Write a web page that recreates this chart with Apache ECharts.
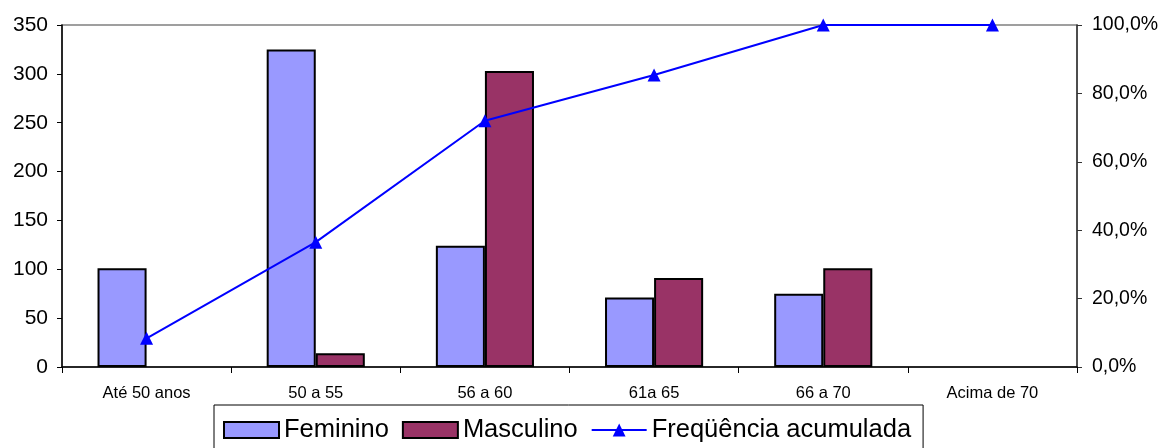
<!DOCTYPE html>
<html>
<head>
<meta charset="utf-8">
<script src="https://cdn.jsdelivr.net/npm/echarts@6/dist/echarts.min.js"></script>
<style>
  html, body { margin: 0; padding: 0; background: #fff; }
  #chart { width: 1167px; height: 448px; }
</style>
</head>
<body>
<div id="chart"></div>
<script>
// faixas etárias
const categorias = ['Até 50 anos', '50 a 55', '56 a 60', '61a 65', '66 a 70', 'Acima de 70'];
const feminino = [101, 325, 124, 71, 75, 0];
const masculino = [0, 14, 303, 91, 101, 0];
// frequência acumulada (%)
const acumulada = [8.4, 36.5, 72.0, 85.4, 100, 100];

// barras com valor zero não aparecem no original
const semZero = arr => arr.map(v => (v === 0 ? null : v));

const fonte = '"Liberation Sans", Arial, sans-serif';
const myChart = echarts.init(document.getElementById('chart'));
const option = {
  animation: false,
  textStyle: { fontFamily: fonte, color: '#000' },
  grid: {
    left: 62, right: 90, top: 25, bottom: 81,
    show: true, borderColor: '#808080', borderWidth: 1.5
  },
  legend: {
    left: 214, top: 405,
    padding: [12, 12, 12, 9],
    borderColor: '#000', borderWidth: 1,
    itemWidth: 55, itemHeight: 16, itemGap: 13,
    textStyle: { fontSize: 25.5, fontFamily: fonte, color: '#000' },
    data: [
      { name: 'Feminino', icon: 'rect' },
      { name: 'Masculino', icon: 'rect' },
      { name: 'Freqüência acumulada' }
    ]
  },
  xAxis: {
    type: 'category',
    data: categorias,
    axisLine: { lineStyle: { color: '#000', width: 1.5 } },
    axisTick: { show: true, interval: 0, length: 6, lineStyle: { color: '#000' } },
    axisLabel: { fontSize: 16.5, margin: 18, color: '#000', interval: 0 }
  },
  yAxis: [
    {
      type: 'value', min: 0, max: 350, interval: 50,
      axisLine: { show: true, lineStyle: { color: '#000', width: 1.5 } },
      axisTick: { show: true, length: 5, lineStyle: { color: '#000' } },
      axisLabel: { fontSize: 21, margin: 14, color: '#000' },
      splitLine: { show: false }
    },
    {
      type: 'value', min: 0, max: 100, interval: 20,
      axisLine: { show: true, lineStyle: { color: '#333', width: 1.5 } },
      axisTick: { show: true, length: 5, lineStyle: { color: '#333' } },
      axisLabel: {
        fontSize: 19.5, margin: 15, color: '#000',
        formatter: v => v.toFixed(1).replace('.', ',') + '%'
      },
      splitLine: { show: false }
    }
  ],
  series: [
    {
      name: 'Feminino', type: 'bar', data: semZero(feminino),
      barGap: '0%', barCategoryGap: '42%',
      itemStyle: { color: '#9999FF', borderColor: '#000', borderWidth: 2 }
    },
    {
      name: 'Masculino', type: 'bar', data: semZero(masculino),
      barGap: '0%', barCategoryGap: '42%',
      itemStyle: { color: '#993366', borderColor: '#000', borderWidth: 2 }
    },
    {
      name: 'Freqüência acumulada', type: 'line', yAxisIndex: 1, data: acumulada,
      symbol: 'triangle', symbolSize: 13,
      lineStyle: { color: '#0000FF', width: 2 },
      itemStyle: { color: '#0000FF' },
      z: 5
    }
  ]
};
myChart.setOption(option);
</script>
</body>
</html>
